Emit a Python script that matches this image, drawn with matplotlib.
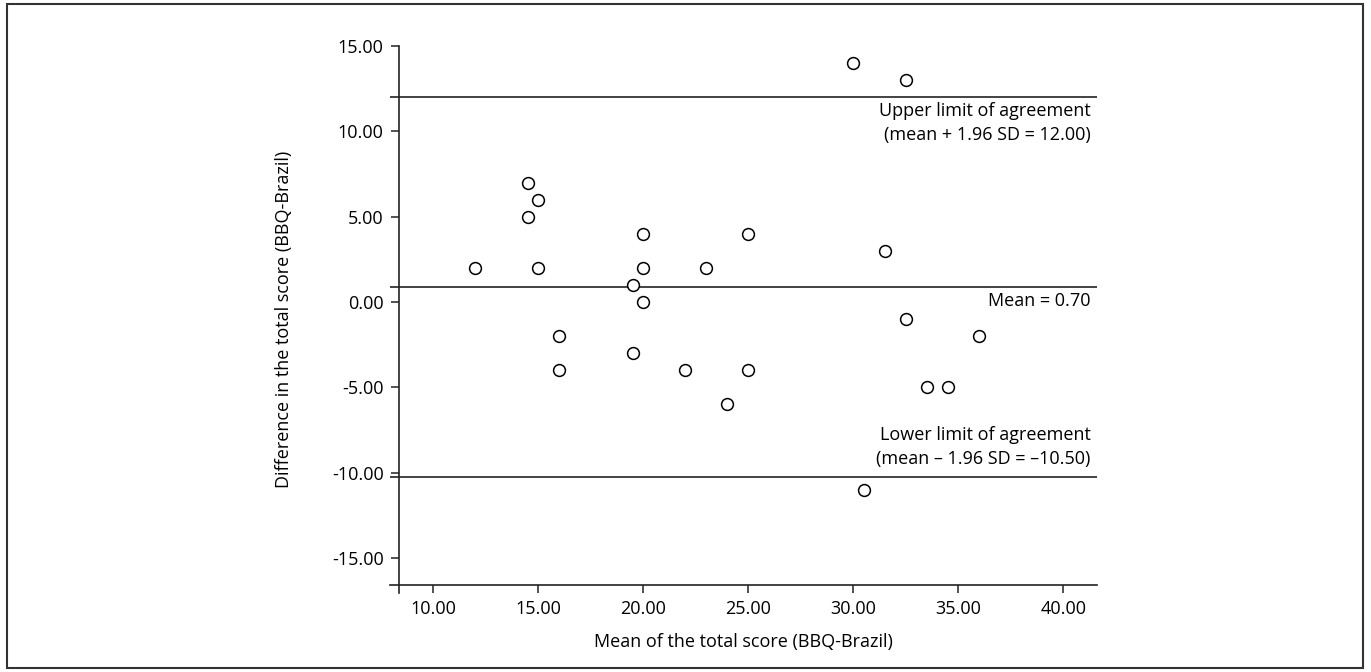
import matplotlib
matplotlib.use("Agg")
import matplotlib.pyplot as plt
from matplotlib.patches import Rectangle

plt.rcParams['font.family'] = ['Open Sans', 'DejaVu Sans']

# Bland-Altman data
mean_score = [12, 14.5, 14.5, 15, 15, 16, 16, 19.5, 19.5, 20, 20, 20, 22, 23,
              24, 25, 25, 30, 30.5, 31.5, 32.5, 32.5, 33.5, 34.5, 36]
diff_score = [2, 7, 5, 6, 2, -2, -4, 1, -3, 4, 2, 0, -4, 2,
              -6, 4, -4, 14, -11, 3, 13, -1, -5, -5, -2]

upper_loa = 12.0
mean_line = 0.9
lower_loa = -10.25

upper_text = 'Upper limit of agreement\n(mean + 1.96 SD = 12.00)'
mean_text = 'Mean = 0.70'
lower_text = 'Lower limit of agreement\n(mean \u2013 1.96 SD = \u201310.50)'

xticks = [10, 15, 20, 25, 30, 35, 40]
yticks = [-15, -10, -5, 0, 5, 10, 15]

W, H = 1371, 672
fig = plt.figure(figsize=(W / 100, H / 100), dpi=100)

# axes box in pixels
left, right, top, bottom = 390, 1097, 46, 593
ax = fig.add_axes([left / W, (H - bottom) / H, (right - left) / W, (bottom - top) / H])

xmin, xmax = 7.95, 41.6
ymin, ymax = -17.05, 15.0
ax.set_xlim(xmin, xmax)
ax.set_ylim(ymin, ymax)

lc = '#222222'
for ln in [upper_loa, mean_line, lower_loa]:
    ax.axhline(ln, color=lc, lw=1.2)

ax.plot(mean_score, diff_score, 'o', ms=8.5, mfc='white', mec='black', mew=1.1, ls='none')

fs = 13
xr = 41.3
ax.text(xr, upper_loa - 0.3, upper_text, ha='right', va='top', fontsize=fs,
        multialignment='right', linespacing=1.4)
ax.text(xr, mean_line - 0.3, mean_text, ha='right', va='top', fontsize=fs)
ax.text(xr, lower_loa + 0.55, lower_text, ha='right', va='bottom', fontsize=fs,
        multialignment='right', linespacing=1.4)

# crossed axis lines like the original
ax.spines['top'].set_visible(False)
ax.spines['right'].set_visible(False)
ax.spines['left'].set_position(('data', 8.38))
ax.spines['bottom'].set_position(('data', -16.58))
ax.spines['left'].set_bounds(ymin, ymax)
ax.spines['bottom'].set_bounds(xmin, xmax)
for s in ['left', 'bottom']:
    ax.spines[s].set_color(lc)
    ax.spines[s].set_linewidth(1.2)

ax.set_xticks(xticks)
ax.set_yticks(yticks)
ax.set_xticklabels(['%.2f' % v for v in xticks])
ax.set_yticklabels(['%.2f' % v for v in yticks])
ax.tick_params(direction='out', length=6, width=1.1, color=lc, labelsize=fs, pad=5)

ax.set_xlabel('Mean of the total score (BBQ-Brazil)', fontsize=fs, va='center')
ax.set_ylabel('Difference in the total score (BBQ-Brazil)', fontsize=fs, va='center')
ax.xaxis.set_label_coords(0.5, (bottom - 642) / (bottom - top))
ax.yaxis.set_label_coords((284 - left) / (right - left), 0.5)

# outer frame
fig.patches.append(Rectangle((7 / W, (H - 668) / H), (1363 - 7) / W, (668 - 4) / H,
                             transform=fig.transFigure, fill=False,
                             edgecolor='#333333', lw=1.5))

fig.savefig('out.png', dpi=100)
